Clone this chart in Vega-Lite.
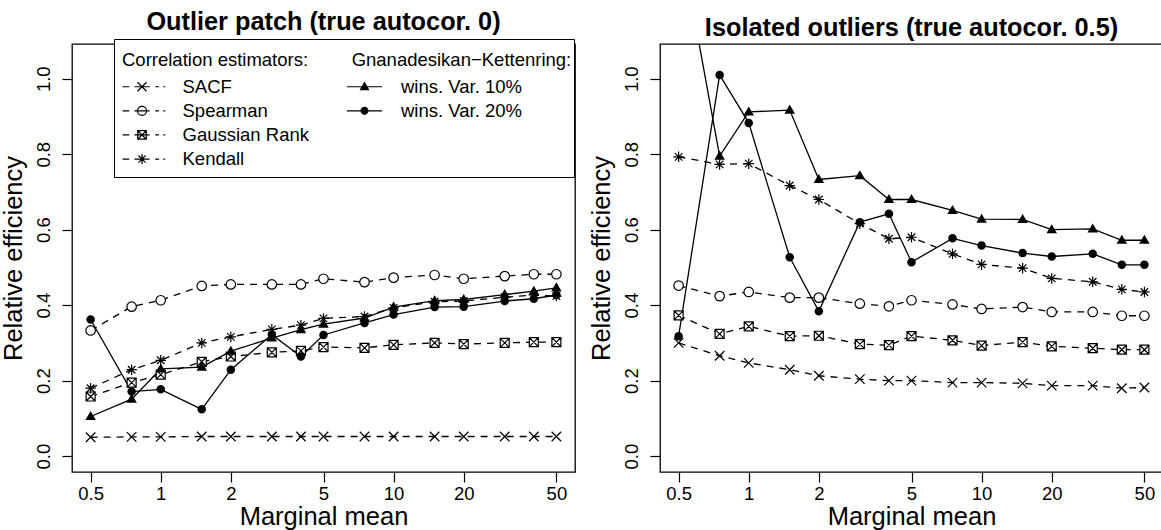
{
  "$schema": "https://vega.github.io/schema/vega-lite/v6.json",
  "padding": {"left": 0, "top": 9, "right": 0, "bottom": 0},
  "background": "white",
  "bounds": "flush",
  "spacing": 85,
  "config": {
    "font": "Liberation Sans",
    "view": {"stroke": "black", "strokeWidth": 1.3},
    "axis": {"grid": false, "domain": false, "tickColor": "black", "tickSize": 10, "tickWidth": 1.2, "labelColor": "black", "labelFontSize": 18.5, "titleFontSize": 25.5, "titleFontWeight": "normal", "titleColor": "black", "labelFlush": false, "labelOverlap": false},
    "axisX": {"titlePadding": 2, "labelPadding": 2},
    "axisY": {"labelAngle": -90, "titlePadding": 8, "labelPadding": 9},
    "title": {"fontSize": 25.3, "fontWeight": "bold", "color": "black", "offset": 3, "baseline": "alphabetic", "anchor": "middle", "frame": "group"}
  },
  "datasets": {
    "d": [
      {"p":"L","s":"SACF","m":0.5,"v":0.050},{"p":"L","s":"SACF","m":0.75,"v":0.051},{"p":"L","s":"SACF","m":1,"v":0.051},{"p":"L","s":"SACF","m":1.5,"v":0.052},{"p":"L","s":"SACF","m":2,"v":0.052},{"p":"L","s":"SACF","m":3,"v":0.052},{"p":"L","s":"SACF","m":4,"v":0.052},{"p":"L","s":"SACF","m":5,"v":0.052},{"p":"L","s":"SACF","m":7.5,"v":0.052},{"p":"L","s":"SACF","m":10,"v":0.052},{"p":"L","s":"SACF","m":15,"v":0.052},{"p":"L","s":"SACF","m":20,"v":0.052},{"p":"L","s":"SACF","m":30,"v":0.052},{"p":"L","s":"SACF","m":40,"v":0.052},{"p":"L","s":"SACF","m":50,"v":0.052},
      {"p":"L","s":"Spearman","m":0.5,"v":0.333},{"p":"L","s":"Spearman","m":0.75,"v":0.396},{"p":"L","s":"Spearman","m":1,"v":0.413},{"p":"L","s":"Spearman","m":1.5,"v":0.451},{"p":"L","s":"Spearman","m":2,"v":0.455},{"p":"L","s":"Spearman","m":3,"v":0.455},{"p":"L","s":"Spearman","m":4,"v":0.455},{"p":"L","s":"Spearman","m":5,"v":0.470},{"p":"L","s":"Spearman","m":7.5,"v":0.461},{"p":"L","s":"Spearman","m":10,"v":0.473},{"p":"L","s":"Spearman","m":15,"v":0.480},{"p":"L","s":"Spearman","m":20,"v":0.470},{"p":"L","s":"Spearman","m":30,"v":0.477},{"p":"L","s":"Spearman","m":40,"v":0.482},{"p":"L","s":"Spearman","m":50,"v":0.482},
      {"p":"L","s":"Gaussian Rank","m":0.5,"v":0.158},{"p":"L","s":"Gaussian Rank","m":0.75,"v":0.195},{"p":"L","s":"Gaussian Rank","m":1,"v":0.216},{"p":"L","s":"Gaussian Rank","m":1.5,"v":0.250},{"p":"L","s":"Gaussian Rank","m":2,"v":0.264},{"p":"L","s":"Gaussian Rank","m":3,"v":0.275},{"p":"L","s":"Gaussian Rank","m":4,"v":0.279},{"p":"L","s":"Gaussian Rank","m":5,"v":0.289},{"p":"L","s":"Gaussian Rank","m":7.5,"v":0.287},{"p":"L","s":"Gaussian Rank","m":10,"v":0.295},{"p":"L","s":"Gaussian Rank","m":15,"v":0.300},{"p":"L","s":"Gaussian Rank","m":20,"v":0.297},{"p":"L","s":"Gaussian Rank","m":30,"v":0.300},{"p":"L","s":"Gaussian Rank","m":40,"v":0.302},{"p":"L","s":"Gaussian Rank","m":50,"v":0.302},
      {"p":"L","s":"Kendall","m":0.5,"v":0.180},{"p":"L","s":"Kendall","m":0.75,"v":0.229},{"p":"L","s":"Kendall","m":1,"v":0.254},{"p":"L","s":"Kendall","m":1.5,"v":0.300},{"p":"L","s":"Kendall","m":2,"v":0.316},{"p":"L","s":"Kendall","m":3,"v":0.336},{"p":"L","s":"Kendall","m":4,"v":0.347},{"p":"L","s":"Kendall","m":5,"v":0.365},{"p":"L","s":"Kendall","m":7.5,"v":0.370},{"p":"L","s":"Kendall","m":10,"v":0.393},{"p":"L","s":"Kendall","m":15,"v":0.409},{"p":"L","s":"Kendall","m":20,"v":0.411},{"p":"L","s":"Kendall","m":30,"v":0.421},{"p":"L","s":"Kendall","m":40,"v":0.427},{"p":"L","s":"Kendall","m":50,"v":0.424},
      {"p":"L","s":"wins. Var. 10%","m":0.5,"v":0.105},{"p":"L","s":"wins. Var. 10%","m":0.75,"v":0.151},{"p":"L","s":"wins. Var. 10%","m":1,"v":0.231},{"p":"L","s":"wins. Var. 10%","m":1.5,"v":0.236},{"p":"L","s":"wins. Var. 10%","m":2,"v":0.278},{"p":"L","s":"wins. Var. 10%","m":3,"v":0.313},{"p":"L","s":"wins. Var. 10%","m":4,"v":0.335},{"p":"L","s":"wins. Var. 10%","m":5,"v":0.350},{"p":"L","s":"wins. Var. 10%","m":7.5,"v":0.366},{"p":"L","s":"wins. Var. 10%","m":10,"v":0.395},{"p":"L","s":"wins. Var. 10%","m":15,"v":0.412},{"p":"L","s":"wins. Var. 10%","m":20,"v":0.415},{"p":"L","s":"wins. Var. 10%","m":30,"v":0.428},{"p":"L","s":"wins. Var. 10%","m":40,"v":0.437},{"p":"L","s":"wins. Var. 10%","m":50,"v":0.446},
      {"p":"L","s":"wins. Var. 20%","m":0.5,"v":0.362},{"p":"L","s":"wins. Var. 20%","m":0.75,"v":0.171},{"p":"L","s":"wins. Var. 20%","m":1,"v":0.177},{"p":"L","s":"wins. Var. 20%","m":1.5,"v":0.124},{"p":"L","s":"wins. Var. 20%","m":2,"v":0.229},{"p":"L","s":"wins. Var. 20%","m":3,"v":0.322},{"p":"L","s":"wins. Var. 20%","m":4,"v":0.264},{"p":"L","s":"wins. Var. 20%","m":5,"v":0.321},{"p":"L","s":"wins. Var. 20%","m":7.5,"v":0.353},{"p":"L","s":"wins. Var. 20%","m":10,"v":0.375},{"p":"L","s":"wins. Var. 20%","m":15,"v":0.395},{"p":"L","s":"wins. Var. 20%","m":20,"v":0.396},{"p":"L","s":"wins. Var. 20%","m":30,"v":0.411},{"p":"L","s":"wins. Var. 20%","m":40,"v":0.417},{"p":"L","s":"wins. Var. 20%","m":50,"v":0.427},
      {"p":"R","s":"SACF","m":0.5,"v":0.300},{"p":"R","s":"SACF","m":0.75,"v":0.266},{"p":"R","s":"SACF","m":1,"v":0.247},{"p":"R","s":"SACF","m":1.5,"v":0.229},{"p":"R","s":"SACF","m":2,"v":0.213},{"p":"R","s":"SACF","m":3,"v":0.204},{"p":"R","s":"SACF","m":4,"v":0.200},{"p":"R","s":"SACF","m":5,"v":0.200},{"p":"R","s":"SACF","m":7.5,"v":0.195},{"p":"R","s":"SACF","m":10,"v":0.195},{"p":"R","s":"SACF","m":15,"v":0.193},{"p":"R","s":"SACF","m":20,"v":0.187},{"p":"R","s":"SACF","m":30,"v":0.187},{"p":"R","s":"SACF","m":40,"v":0.180},{"p":"R","s":"SACF","m":50,"v":0.182},
      {"p":"R","s":"Spearman","m":0.5,"v":0.452},{"p":"R","s":"Spearman","m":0.75,"v":0.424},{"p":"R","s":"Spearman","m":1,"v":0.435},{"p":"R","s":"Spearman","m":1.5,"v":0.420},{"p":"R","s":"Spearman","m":2,"v":0.420},{"p":"R","s":"Spearman","m":3,"v":0.404},{"p":"R","s":"Spearman","m":4,"v":0.397},{"p":"R","s":"Spearman","m":5,"v":0.413},{"p":"R","s":"Spearman","m":7.5,"v":0.402},{"p":"R","s":"Spearman","m":10,"v":0.390},{"p":"R","s":"Spearman","m":15,"v":0.395},{"p":"R","s":"Spearman","m":20,"v":0.382},{"p":"R","s":"Spearman","m":30,"v":0.382},{"p":"R","s":"Spearman","m":40,"v":0.372},{"p":"R","s":"Spearman","m":50,"v":0.372},
      {"p":"R","s":"Gaussian Rank","m":0.5,"v":0.373},{"p":"R","s":"Gaussian Rank","m":0.75,"v":0.324},{"p":"R","s":"Gaussian Rank","m":1,"v":0.344},{"p":"R","s":"Gaussian Rank","m":1.5,"v":0.318},{"p":"R","s":"Gaussian Rank","m":2,"v":0.319},{"p":"R","s":"Gaussian Rank","m":3,"v":0.297},{"p":"R","s":"Gaussian Rank","m":4,"v":0.294},{"p":"R","s":"Gaussian Rank","m":5,"v":0.318},{"p":"R","s":"Gaussian Rank","m":7.5,"v":0.307},{"p":"R","s":"Gaussian Rank","m":10,"v":0.293},{"p":"R","s":"Gaussian Rank","m":15,"v":0.302},{"p":"R","s":"Gaussian Rank","m":20,"v":0.291},{"p":"R","s":"Gaussian Rank","m":30,"v":0.286},{"p":"R","s":"Gaussian Rank","m":40,"v":0.282},{"p":"R","s":"Gaussian Rank","m":50,"v":0.282},
      {"p":"R","s":"Kendall","m":0.5,"v":0.793},{"p":"R","s":"Kendall","m":0.75,"v":0.773},{"p":"R","s":"Kendall","m":1,"v":0.775},{"p":"R","s":"Kendall","m":1.5,"v":0.717},{"p":"R","s":"Kendall","m":2,"v":0.680},{"p":"R","s":"Kendall","m":3,"v":0.616},{"p":"R","s":"Kendall","m":4,"v":0.576},{"p":"R","s":"Kendall","m":5,"v":0.580},{"p":"R","s":"Kendall","m":7.5,"v":0.536},{"p":"R","s":"Kendall","m":10,"v":0.508},{"p":"R","s":"Kendall","m":15,"v":0.498},{"p":"R","s":"Kendall","m":20,"v":0.471},{"p":"R","s":"Kendall","m":30,"v":0.462},{"p":"R","s":"Kendall","m":40,"v":0.442},{"p":"R","s":"Kendall","m":50,"v":0.435},
      {"p":"R","s":"wins. Var. 10%","m":0.5,"v":1.390},{"p":"R","s":"wins. Var. 10%","m":0.75,"v":0.795},{"p":"R","s":"wins. Var. 10%","m":1,"v":0.912},{"p":"R","s":"wins. Var. 10%","m":1.5,"v":0.917},{"p":"R","s":"wins. Var. 10%","m":2,"v":0.733},{"p":"R","s":"wins. Var. 10%","m":3,"v":0.743},{"p":"R","s":"wins. Var. 10%","m":4,"v":0.680},{"p":"R","s":"wins. Var. 10%","m":5,"v":0.680},{"p":"R","s":"wins. Var. 10%","m":7.5,"v":0.651},{"p":"R","s":"wins. Var. 10%","m":10,"v":0.628},{"p":"R","s":"wins. Var. 10%","m":15,"v":0.627},{"p":"R","s":"wins. Var. 10%","m":20,"v":0.600},{"p":"R","s":"wins. Var. 10%","m":30,"v":0.602},{"p":"R","s":"wins. Var. 10%","m":40,"v":0.572},{"p":"R","s":"wins. Var. 10%","m":50,"v":0.572},
      {"p":"R","s":"wins. Var. 20%","m":0.5,"v":0.318},{"p":"R","s":"wins. Var. 20%","m":0.75,"v":1.010},{"p":"R","s":"wins. Var. 20%","m":1,"v":0.883},{"p":"R","s":"wins. Var. 20%","m":1.5,"v":0.527},{"p":"R","s":"wins. Var. 20%","m":2,"v":0.384},{"p":"R","s":"wins. Var. 20%","m":3,"v":0.620},{"p":"R","s":"wins. Var. 20%","m":4,"v":0.642},{"p":"R","s":"wins. Var. 20%","m":5,"v":0.514},{"p":"R","s":"wins. Var. 20%","m":7.5,"v":0.577},{"p":"R","s":"wins. Var. 20%","m":10,"v":0.558},{"p":"R","s":"wins. Var. 20%","m":15,"v":0.538},{"p":"R","s":"wins. Var. 20%","m":20,"v":0.529},{"p":"R","s":"wins. Var. 20%","m":30,"v":0.536},{"p":"R","s":"wins. Var. 20%","m":40,"v":0.507},{"p":"R","s":"wins. Var. 20%","m":50,"v":0.507}
    ]
  },
  "hconcat": [
    {
      "width": 503, "height": 428,
      "title": "Outlier patch (true autocor. 0)",
      "data": {"name": "d"},
      "transform": [{"filter": "datum.p === 'L'"}],
      "encoding": {
        "x": {"field": "m", "type": "quantitative", "scale": {"type": "log", "domain": [0.4159, 60.11], "nice": false}, "axis": {"values": [0.5, 1, 2, 5, 10, 20, 50], "format": "~g", "title": "Marginal mean"}},
        "y": {"field": "v", "type": "quantitative", "scale": {"domain": [-0.042, 1.092], "nice": false, "zero": false}, "axis": {"values": [0, 0.2, 0.4, 0.6, 0.8, 1], "format": ".1f", "title": "Relative efficiency"}}
      },
      "layer": [
        {"data": {"values": [{}]}, "mark": {"type": "rule", "color": "#c8c8c8", "strokeWidth": 1.3}, "encoding": {"x": null, "y": {"datum": 1}}},
        {"transform": [{"filter": {"field": "s", "oneOf": ["SACF", "Spearman", "Gaussian Rank", "Kendall"]}}], "mark": {"type": "line", "color": "black", "strokeWidth": 1.3, "strokeDash": [7, 6], "clip": true}, "encoding": {"detail": {"field": "s"}}},
        {"transform": [{"filter": {"field": "s", "oneOf": ["wins. Var. 10%", "wins. Var. 20%"]}}], "mark": {"type": "line", "color": "black", "strokeWidth": 1.3, "clip": true}, "encoding": {"detail": {"field": "s"}}},
        {"transform": [{"filter": {"field": "s", "oneOf": ["SACF", "Spearman", "Gaussian Rank", "Kendall"]}}], "mark": {"type": "point", "fill": "white", "stroke": "black", "strokeWidth": 1.2, "opacity": 1, "size": 100, "clip": true},
         "encoding": {"shape": {"field": "s", "type": "nominal", "legend": null,
           "scale": {"domain": ["SACF", "Spearman", "Gaussian Rank", "Kendall"], "range": ["M-0.95,-0.95L0.95,0.95M-0.95,0.95L0.95,-0.95", "M0.95,0A0.95,0.95,0,1,1,-0.95,0A0.95,0.95,0,1,1,0.95,0Z", "M-0.9,-0.9H0.9V0.9H-0.9ZM-0.9,-0.9L0.9,0.9M-0.9,0.9L0.9,-0.9", "M-1.05,0H1.05M0,-1.05V1.05M-0.75,-0.75L0.75,0.75M-0.75,0.75L0.75,-0.75"]}}}},
        {"transform": [{"filter": {"field": "s", "oneOf": ["wins. Var. 10%", "wins. Var. 20%"]}}], "mark": {"type": "point", "filled": true, "color": "black", "opacity": 1, "size": 100, "clip": true},
         "encoding": {"shape": {"field": "s", "type": "nominal", "legend": null,
           "scale": {"domain": ["wins. Var. 10%", "wins. Var. 20%"], "range": ["M0,-1.1L1.05,0.72L-1.05,0.72Z", "M0.85,0A0.85,0.85,0,1,1,-0.85,0A0.85,0.85,0,1,1,0.85,0Z"]}}}},
        {"transform": [{"filter": "false"}], "mark": {"type": "point", "filled": false, "color": "black", "strokeWidth": 1.2, "opacity": 1, "size": 90},
         "encoding": {"shape": {"field": "s", "type": "nominal",
           "scale": {"domain": ["SACF", "Spearman", "Gaussian Rank", "Kendall"], "range": [
             "M-4.1,0H-2.7M-1.6,0H1.6M2.8,0H3.6M4.5,0H4.9M-0.95,-0.95L0.95,0.95M-0.95,0.95L0.95,-0.95",
             "M-4.1,0H-2.7M-1.6,0H1.6M2.8,0H3.6M4.5,0H4.9M0.95,0A0.95,0.95,0,1,1,-0.95,0A0.95,0.95,0,1,1,0.95,0Z",
             "M-4.1,0H-2.7M-1.6,0H1.6M2.8,0H3.6M4.5,0H4.9M-0.9,-0.9H0.9V0.9H-0.9ZM-0.9,-0.9L0.9,0.9M-0.9,0.9L0.9,-0.9",
             "M-4.1,0H-2.7M-1.6,0H1.6M2.8,0H3.6M4.5,0H4.9M-1.05,0H1.05M0,-1.05V1.05M-0.75,-0.75L0.75,0.75M-0.75,0.75L0.75,-0.75"]},
           "legend": {"title": "Correlation estimators:\u00a0\u00a0\u00a0\u00a0\u00a0\u00a0\u00a0\u00a0\u00a0\u00a0\u00a0\u00a0\u00a0\u00a0\u00a0\u00a0\u00a0\u00a0\u00a0\u00a0\u00a0\u00a0\u00a0\u00a0\u00a0\u00a0\u00a0\u00a0\u00a0\u00a0\u00a0\u00a0\u00a0\u00a0\u00a0\u00a0\u00a0\u00a0\u00a0\u00a0\u00a0\u00a0\u00a0\u00a0\u00a0\u00a0\u00a0\u00a0\u00a0\u00a0\u200b", "orient": "none", "legendX": 42, "legendY": -5, "padding": 8, "strokeColor": "black", "fillColor": "white",
             "titleFontSize": 18.5, "titleFontWeight": "normal", "titleColor": "black", "titleBaseline": "line-top", "titleLineHeight": 26.8, "titlePadding": 12, "titleLimit": 1000,
             "labelFontSize": 18.5, "labelColor": "black", "labelOffset": 31.25, "labelLimit": 400, "symbolOffset": 10.75, "symbolSize": 90, "symbolStrokeWidth": 1.2, "symbolStrokeColor": "black", "rowPadding": 5.1}}}},
        {"transform": [{"filter": "false"}], "mark": {"type": "point", "filled": true, "color": "black", "opacity": 1, "size": 90},
         "encoding": {"shape": {"field": "s", "type": "nominal",
           "scale": {"domain": ["wins. Var. 10%", "wins. Var. 20%"], "range": [
             "M-3.7,-0.12H3.7V0.12H-3.7ZM0,-1.1L1.05,0.72L-1.05,0.72Z",
             "M-3.7,-0.12H3.7V0.12H-3.7ZM0.85,0A0.85,0.85,0,1,1,-0.85,0A0.85,0.85,0,1,1,0.85,0Z"]},
           "legend": {"title": "\u200b\u00a0Gnanadesikan−Kettenring:", "orient": "none", "legendX": 266.5, "legendY": -5, "padding": 8,
             "titleFontSize": 18.5, "titleFontWeight": "normal", "titleColor": "black", "titleBaseline": "line-top", "titleLineHeight": 26.8, "titlePadding": 12, "titleLimit": 1000,
             "labelFontSize": 18.5, "labelColor": "black", "labelOffset": 27.25, "labelLimit": 400, "symbolOffset": 8.75, "symbolSize": 90, "symbolFillColor": "black", "rowPadding": 5.1}}}}
      ],
      "resolve": {"scale": {"shape": "independent"}, "legend": {"shape": "independent"}}
    },
    {
      "width": 503, "height": 428,
      "title": "Isolated outliers (true autocor. 0.5)",
      "data": {"name": "d"},
      "transform": [{"filter": "datum.p === 'R'"}],
      "encoding": {
        "x": {"field": "m", "type": "quantitative", "scale": {"type": "log", "domain": [0.4159, 60.11], "nice": false}, "axis": {"values": [0.5, 1, 2, 5, 10, 20, 50], "format": "~g", "title": "Marginal mean"}},
        "y": {"field": "v", "type": "quantitative", "scale": {"domain": [-0.042, 1.092], "nice": false, "zero": false}, "axis": {"values": [0, 0.2, 0.4, 0.6, 0.8, 1], "format": ".1f", "title": "Relative efficiency"}}
      },
      "layer": [
        {"data": {"values": [{}]}, "mark": {"type": "rule", "color": "#c8c8c8", "strokeWidth": 1.3}, "encoding": {"x": null, "y": {"datum": 1}}},
        {"transform": [{"filter": {"field": "s", "oneOf": ["SACF", "Spearman", "Gaussian Rank", "Kendall"]}}], "mark": {"type": "line", "color": "black", "strokeWidth": 1.3, "strokeDash": [7, 6], "clip": true}, "encoding": {"detail": {"field": "s"}}},
        {"transform": [{"filter": {"field": "s", "oneOf": ["wins. Var. 10%", "wins. Var. 20%"]}}], "mark": {"type": "line", "color": "black", "strokeWidth": 1.3, "clip": true}, "encoding": {"detail": {"field": "s"}}},
        {"transform": [{"filter": {"field": "s", "oneOf": ["SACF", "Spearman", "Gaussian Rank", "Kendall"]}}], "mark": {"type": "point", "fill": "white", "stroke": "black", "strokeWidth": 1.2, "opacity": 1, "size": 100, "clip": true},
         "encoding": {"shape": {"field": "s", "type": "nominal", "legend": null,
           "scale": {"domain": ["SACF", "Spearman", "Gaussian Rank", "Kendall"], "range": ["M-0.95,-0.95L0.95,0.95M-0.95,0.95L0.95,-0.95", "M0.95,0A0.95,0.95,0,1,1,-0.95,0A0.95,0.95,0,1,1,0.95,0Z", "M-0.9,-0.9H0.9V0.9H-0.9ZM-0.9,-0.9L0.9,0.9M-0.9,0.9L0.9,-0.9", "M-1.05,0H1.05M0,-1.05V1.05M-0.75,-0.75L0.75,0.75M-0.75,0.75L0.75,-0.75"]}}}},
        {"transform": [{"filter": {"field": "s", "oneOf": ["wins. Var. 10%", "wins. Var. 20%"]}}], "mark": {"type": "point", "filled": true, "color": "black", "opacity": 1, "size": 100, "clip": true},
         "encoding": {"shape": {"field": "s", "type": "nominal", "legend": null,
           "scale": {"domain": ["wins. Var. 10%", "wins. Var. 20%"], "range": ["M0,-1.1L1.05,0.72L-1.05,0.72Z", "M0.85,0A0.85,0.85,0,1,1,-0.85,0A0.85,0.85,0,1,1,0.85,0Z"]}}}}
      ],
      "resolve": {"scale": {"shape": "independent"}}
    }
  ]
}
